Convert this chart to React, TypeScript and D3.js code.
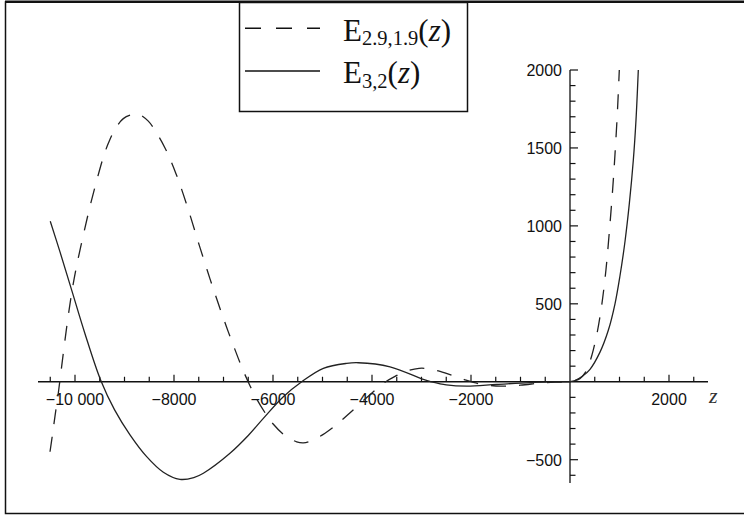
import React from "react";
import * as d3 from "d3";

// E_{3,2}(z)
const solidZ = [-10500, -10300, -10067, -9800, -9481, -9200, -8889, -8552, -8215, -7879, -7600, -7407, -6869, -6500, -6195, -5791, -5420, -4983, -4512, -4276, -3636, -2963, -2800, -2500, -2087, -1481, -808, -400, 0, 101, 250, 404, 606, 774, 909, 1010, 1111, 1199, 1279, 1333, 1380];
const solidVal = [1030, 830, 588, 310, 10, -180, -340, -480, -580, -626, -615, -587, -459, -345, -235, -96, 0, 86, 118, 122, 96, 15, 0, -20, -28, -17, -5, -1, 1, 8, 35, 80, 190, 330, 500, 680, 900, 1144, 1421, 1678, 2000];

// E_{2.9,1.9}(z)
const dashZ = [-10505, -10451, -10404, -10340, -10269, -10168, -10067, -9966, -9832, -9697, -9562, -9428, -9327, -9192, -9024, -8822, -8721, -8519, -8350, -8182, -8081, -7960, -7879, -7758, -7677, -7576, -7489, -7394, -7273, -7172, -7071, -7004, -6903, -6814, -6701, -6600, -6465, -6330, -6128, -6027, -5758, -5522, -5387, -5219, -4949, -4714, -4500, -4100, -3772, -3535, -3266, -3050, -2900, -2660, -2391, -2100, -1800, -1400, -1000, -600, -300, 0, 200, 300, 390, 471, 552, 640, 727, 794, 863, 909, 956, 996];
const dashVal = [-449, -330, -220, -80, 100, 350, 570, 745, 940, 1125, 1290, 1440, 1530, 1620, 1688, 1716, 1718, 1672, 1595, 1500, 1430, 1335, 1265, 1150, 1070, 965, 875, 780, 660, 565, 470, 410, 320, 245, 150, 70, -25, -110, -215, -260, -345, -385, -392, -378, -330, -275, -215, -100, -10, 35, 72, 86, 85, 70, 42, 10, -15, -28, -22, -8, -2, 1, 20, 55, 118, 205, 320, 490, 720, 960, 1240, 1460, 1720, 2000];

const xMajorTicks = [-10000, -8000, -6000, -4000, -2000, 2000];
const xMajorLabels = ["−10 000", "−8000", "−6000", "−4000", "−2000", "2000"];
const yMajorTicks = [-500, 500, 1000, 1500, 2000];
const yMajorLabels = ["−500", "500", "1000", "1500", "2000"];

const legendNames = ["2.9,1.9", "3,2"];

export default function App() {
  const x = d3.scaleLinear().domain([-10000, 2000]).range([75, 669]);
  const y = d3.scaleLinear().domain([-500, 2000]).range([459.7, 70]);

  const xMinor = d3.range(-10500, 2501, 500).filter((v) => v % 2000 !== 0);
  const yMinor = d3.range(-600, 2001, 100).filter((v) => v % 500 !== 0);

  const line = d3
    .line<[number, number]>()
    .x((d) => x(d[0]))
    .y((d) => y(d[1]))
    .curve(d3.curveCatmullRom.alpha(0.5));

  const solidPts = solidZ.map((z, i) => [z, solidVal[i]] as [number, number]);
  const dashPts = dashZ.map((z, i) => [z, dashVal[i]] as [number, number]);

  const x0 = x(0);
  const y0 = y(0);
  const tickFont = "'Liberation Sans', Arial, sans-serif";
  const serif = "'Liberation Serif', 'Times New Roman', serif";

  return (
    <div style={{ position: "fixed", left: 0, top: 0 }}>
      <svg width={744} height={516} style={{ display: "block", background: "#fff" }}>
        <defs>
          <clipPath id="plotclip">
            <rect x={0} y={y(2000)} width={744} height={y(-650) - y(2000)} />
          </clipPath>
        </defs>
        {/* outer frame */}
        <rect x={5.5} y={2} width={745} height={511.5} fill="none" stroke="#111" strokeWidth={1.5} />
        <line x1={5} x2={744} y1={1.8} y2={1.8} stroke="#111" strokeWidth={2.5} />

        {/* x axis */}
        <line x1={38} x2={708} y1={y0} y2={y0} stroke="#111" strokeWidth={1.3} />
        {xMinor.map((v) => (
          <line key={"xm" + v} x1={x(v)} x2={x(v)} y1={y0} y2={y0 - 5} stroke="#111" strokeWidth={1.2} />
        ))}
        {xMajorTicks.map((v, i) => (
          <g key={"xM" + v}>
            <line x1={x(v)} x2={x(v)} y1={y0} y2={y0 - 7} stroke="#111" strokeWidth={1.2} />
            <text x={x(v)} y={405} textAnchor="middle" fontFamily={tickFont} fontSize={16} fill="#111">
              {xMajorLabels[i]}
            </text>
          </g>
        ))}
        <text x={709} y={403} fontFamily={serif} fontStyle="italic" fontSize={22} fill="#333">
          z
        </text>

        {/* y axis */}
        <line x1={x0} x2={x0} y1={y(2000)} y2={483} stroke="#111" strokeWidth={1.3} />
        {yMinor.map((v) => (
          <line key={"ym" + v} x1={x0} x2={x0 + 5.5} y1={y(v)} y2={y(v)} stroke="#111" strokeWidth={1.2} />
        ))}
        {yMajorTicks.map((v, i) => (
          <g key={"yM" + v}>
            <line x1={x0} x2={x0 + 8} y1={y(v)} y2={y(v)} stroke="#111" strokeWidth={1.2} />
            <text x={562} y={y(v) + 5.8} textAnchor="end" fontFamily={tickFont} fontSize={16} fill="#111">
              {yMajorLabels[i]}
            </text>
          </g>
        ))}

        {/* curves */}
        <g clipPath="url(#plotclip)" fill="none">
          <path d={line(dashPts) || ""} stroke="#222" strokeWidth={1.3} strokeDasharray="15,13" />
          <path d={line(solidPts) || ""} stroke="#222" strokeWidth={1.3} />
        </g>

        {/* legend */}
        <rect x={239.5} y={2.5} width={228} height={109} fill="#fff" stroke="#111" strokeWidth={1.5} />
        <line x1={245} x2={320} y1={28.3} y2={28.3} stroke="#111" strokeWidth={1.5} strokeDasharray="16,15" />
        <line x1={245} x2={320} y1={71} y2={71} stroke="#111" strokeWidth={1.5} />
        {legendNames.map((n, i) => (
          <text key={n} x={343} y={40.7 + i * 42.6} fontFamily={serif} fontSize={31} fill="#111">
            E
            <tspan fontSize={20.5} dy={4.3}>{n}</tspan>
            <tspan dy={-4.3}>(</tspan>
            <tspan fontStyle="italic">z</tspan>
            <tspan>)</tspan>
          </text>
        ))}
      </svg>
    </div>
  );
}
